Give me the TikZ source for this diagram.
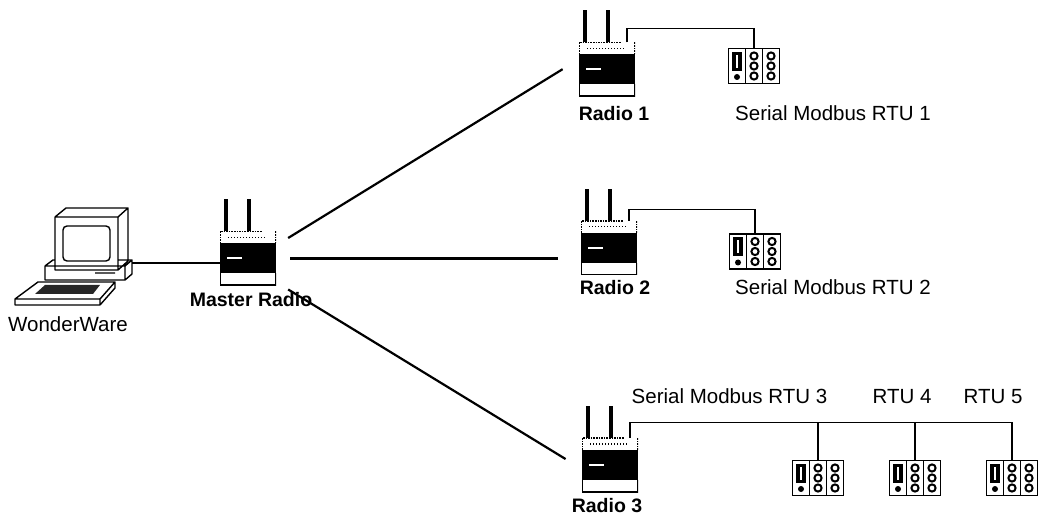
\documentclass[tikz,border=0pt]{standalone}
\usepackage{fontspec}
\setmainfont{Liberation Sans}
\usetikzlibrary{calc, positioning}

\begin{document}
\begin{tikzpicture}[x=1pt, y=1pt,
		radio/.style = {minimum width=56pt, minimum height=54pt, inner sep=0pt,
			path picture={
				\fill ([yshift=-12pt]path picture bounding box.north west)
				      rectangle ([yshift=12pt]path picture bounding box.south east);
				\fill[white] ([shift={(-21pt,-1pt)}]path picture bounding box.center) rectangle ++(15pt,2pt);
				\draw[line width=2.4pt] ([yshift=12pt]path picture bounding box.south west)
				      |- (path picture bounding box.south east) -- ++(0,12pt);
				\draw[densely dotted, line width=1.6pt]
				      ([yshift=-12pt]path picture bounding box.north west)
				      |- ([xshift=-14pt]path picture bounding box.north east)
				      (path picture bounding box.north east) -- ++(0,-12pt);
				\draw[dotted, line width=1pt]
				      ([shift={(8pt,-6pt)}]path picture bounding box.north west)
				      -- ([shift={(-10pt,-6pt)}]path picture bounding box.north east);}},
		rtu/.style   = {draw, line width=1.4pt, minimum width=51pt, minimum height=35pt, inner sep=0pt,
			path picture={
				\begin{scope}[shift={(path picture bounding box.center)}]
					\draw[line width=1.4pt] (-8.5pt,-20pt) -- (-8.5pt,20pt)
					                        ( 8.5pt,-20pt) -- ( 8.5pt,20pt);
					\fill (-22pt,-5pt) rectangle (-12pt,14pt);
					\fill[white] (-18.5pt,-2pt) rectangle (-16.5pt,11pt);
					\fill (-17pt,-11pt) circle (3pt);
					\foreach \x in {0pt, 17pt}
						\foreach \y in {-10pt, 0pt, 10pt}
							\draw[line width=2pt] (\x,\y) circle (3.6pt);
				\end{scope}}},
		link/.style  = {line width=2.2pt, shorten <=14pt, shorten >=19pt},
		cable/.style = {line width=1.4pt},
		txt/.style   = {inner sep=0pt, font=\fontsize{20.5}{24}\selectfont},
		tag/.style   = {inner sep=0pt, font=\fontsize{19.5}{24}\selectfont\bfseries},
	]
	\useasboundingbox (0,0) rectangle (1048,519);

	% workstation
	\draw[line width=1.4pt, line join=round]
	      (55,249) rectangle (118,302)
	      (55,302) -- (66,311) -- (128,311) -- (118,302)
	      (118,249) -- (128,258) -- (128,311)
	      (45,239) rectangle (125,253)
	      (45,253) -- (53,259) -- (55,259)  (118,259) -- (132,259) -- (125,253)
	      (125,239) -- (132,245) -- (132,259)
	      (95,246) -- (115,246)
	      (38,237) -- (115,237) -- (100,220) -- (15,220) -- cycle
	      (15,220) -- (15,214) -- (100,214) -- (100,220)
	      (100,214) -- (115,231) -- (115,237);
	\draw[line width=1.4pt, rounded corners=4pt] (63,258) rectangle (110,293);
	\fill[black!85] (45,234) -- (100,234) -- (93,225) -- (35,225) -- cycle;
	\coordinate (pc) at (132,256);
	\node[txt] (pcname) at (68,194.5) {WonderWare};

	% radios
	\node[radio] (master) at (248,260.5) {};
	\node[radio] (radA)   at (607,449.5) {};
	\node[radio] (radB)   at (609,271)   {};
	\node[radio] (radC)   at (610,54)    {};
	\foreach \r in {master, radA, radB, radC}
		\draw[line width=3.6pt] ([xshift=-22pt]\r.north) -- ++(0,32)
		                        ([xshift=  1pt]\r.north) -- ++(0,32);

	\node[tag] (masterName) at (251,219)   {Master Radio};
	\node[tag] (radAName)   at (614,405.5) {Radio 1};
	\node[tag] (radBName)   at (615,231.5) {Radio 2};
	\node[tag] (radCName)   at (607,13.5)  {Radio 3};

	% field devices
	\node[rtu] (rtuA) at (754,453)  {};
	\node[rtu] (rtuB) at (755,267.5) {};
	\node[rtu] (rtuC) at (818,41)   {};
	\node[rtu] (rtuD) at (915,41)   {};
	\node[rtu] (rtuE) at (1012,41)  {};

	\node[txt] (rtuAName) at (833,405.5) {Serial Modbus RTU 1};
	\node[txt] (rtuBName) at (833,231.5) {Serial Modbus RTU 2};
	\node[txt] (rtuCName) at (729.5,122.5) {Serial Modbus RTU 3};
	\node[txt] (rtuDName) at (902,122.5) {RTU 4};
	\node[txt] (rtuEName) at (993,122.5) {RTU 5};

	% wiring
	\draw[cable] (pc) -- (pc -| master.west);
	\draw[link] (master.25)  -- (radA.160);
	\draw[link, shorten >=23pt] (master.east) -- (master.east -| radB.west);
	\draw[link] (master.-40) -- (radC.188);

	\draw[cable] ([xshift=20pt]radA.north) -- ++(0,14) -| (rtuA.north);
	\draw[cable] ([xshift=20pt]radB.north) -- ++(0,11) -| (rtuB.north);
	\draw[cable] ([xshift=20pt]radC.north) -- ++(0,15) coordinate (bus) -| (rtuE.north)
	             (rtuC.north) -- (rtuC.north |- bus)
	             (rtuD.north) -- (rtuD.north |- bus);
\end{tikzpicture}
\end{document}
